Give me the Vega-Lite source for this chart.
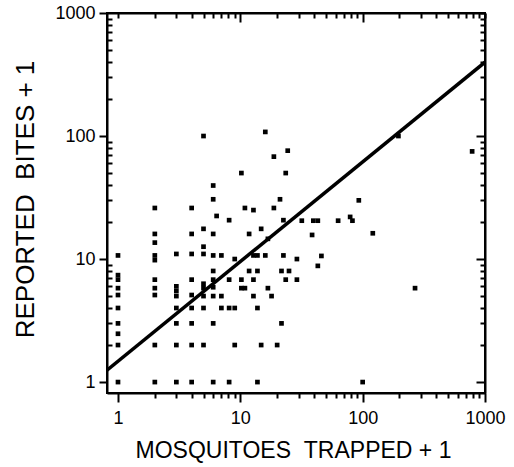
{
  "$schema": "https://vega.github.io/schema/vega-lite/v6.json",
  "width": 378,
  "height": 380,
  "autosize": {"type": "none"},
  "padding": {"left": 107, "top": 13, "right": 29, "bottom": 74},
  "background": "white",
  "config": {
    "view": {"stroke": "black", "strokeWidth": 2},
    "font": "Liberation Sans",
    "axis": {"grid": false, "domainColor": "black", "domainWidth": 2, "tickColor": "black", "tickWidth": 2, "labelColor": "black", "titleColor": "black", "titleFontWeight": "normal", "labelOverlap": false, "labelFlush": false, "labelBound": false}
  },
  "datasets": {
    "pts": [
      {"X":1,"Y":10.7},{"X":1,"Y":7.4},{"X":1,"Y":6.8},{"X":1,"Y":5.8},{"X":1,"Y":5.1},{"X":1,"Y":4},{"X":1,"Y":3},{"X":1,"Y":2.47},{"X":1,"Y":2},{"X":1,"Y":1},
      {"X":2,"Y":26},{"X":2,"Y":16},{"X":2,"Y":13.6},{"X":2,"Y":10.7},{"X":2,"Y":9.8},{"X":2,"Y":6.8},{"X":2,"Y":5.8},{"X":2,"Y":5.1},{"X":2,"Y":2},{"X":2,"Y":1},
      {"X":3,"Y":11},{"X":3,"Y":6},{"X":3,"Y":5.5},{"X":3,"Y":5},{"X":3,"Y":4},{"X":3,"Y":3},{"X":3,"Y":2},{"X":3,"Y":1},
      {"X":4,"Y":26},{"X":4,"Y":16},{"X":4,"Y":11},{"X":4,"Y":6.8},{"X":4,"Y":5.1},{"X":4,"Y":4},{"X":4,"Y":3},{"X":4,"Y":2},{"X":4,"Y":1},
      {"X":5,"Y":100},{"X":5,"Y":17.6},{"X":5,"Y":12.6},{"X":5,"Y":11},{"X":5,"Y":6.3},{"X":5,"Y":5.8},{"X":5,"Y":5},{"X":5,"Y":4},{"X":5,"Y":2},
      {"X":6,"Y":39.6},{"X":6,"Y":30.6},{"X":6,"Y":16},{"X":6,"Y":10.7},{"X":6,"Y":8},{"X":6,"Y":6.8},{"X":6,"Y":5.9},{"X":6,"Y":5},{"X":6,"Y":3},{"X":6,"Y":1},
      {"X":6.4,"Y":22.4},
      {"X":7,"Y":10.7},{"X":7,"Y":5},{"X":7,"Y":4},
      {"X":8.1,"Y":20.7},{"X":8.1,"Y":6.8},{"X":8.1,"Y":4},{"X":8.1,"Y":1},
      {"X":9,"Y":10},{"X":9,"Y":4},{"X":9,"Y":2},
      {"X":10.2,"Y":50},{"X":10.2,"Y":6.8},{"X":10.2,"Y":5.8},
      {"X":10.9,"Y":26},{"X":10.9,"Y":5.8},
      {"X":11.8,"Y":16},{"X":11.8,"Y":8},
      {"X":12.8,"Y":25},{"X":12.8,"Y":10.7},{"X":12.8,"Y":6.8},{"X":12.8,"Y":5},
      {"X":13.8,"Y":10.7},{"X":13.8,"Y":8},{"X":13.8,"Y":4},{"X":13.8,"Y":1},
      {"X":14.8,"Y":17.6},{"X":14.8,"Y":2},
      {"X":16,"Y":108},{"X":16,"Y":10.7},
      {"X":16.8,"Y":14.6},{"X":16.8,"Y":5.8},
      {"X":18,"Y":5},
      {"X":18.8,"Y":68},{"X":18.8,"Y":26},
      {"X":20,"Y":2},
      {"X":21.1,"Y":30.6},
      {"X":21.7,"Y":8},{"X":21.7,"Y":3},
      {"X":22.5,"Y":20.7},{"X":22.5,"Y":10.7},
      {"X":23.5,"Y":50},{"X":23.5,"Y":6.8},
      {"X":24.4,"Y":76},
      {"X":25,"Y":8},
      {"X":29,"Y":10},{"X":29,"Y":6.8},
      {"X":31.8,"Y":20.5},
      {"X":38.6,"Y":15.7},
      {"X":39.5,"Y":20.5},
      {"X":43,"Y":20.5},{"X":43,"Y":8.8},
      {"X":46,"Y":10.6},
      {"X":63,"Y":20.5},
      {"X":79,"Y":22},
      {"X":82.5,"Y":20.5},
      {"X":93,"Y":30},
      {"X":100,"Y":1},
      {"X":121,"Y":16.2},
      {"X":196,"Y":100},
      {"X":268,"Y":5.8},
      {"X":785,"Y":75}
    ],
    "fit": [
      {"X":0.813,"Y":1.25},
      {"X":1000,"Y":398}
    ]
  },
  "layer": [
    {
      "data": {"name": "pts"},
      "mark": {"type": "square", "size": 22, "color": "black", "opacity": 1},
      "encoding": {
        "x": {"field": "X", "type": "quantitative",
          "scale": {"type": "log", "domain": [0.813, 1000], "nice": false, "zero": false},
          "axis": {"orient": "bottom",
            "values": [1,2,3,4,5,6,7,8,9,10,20,30,40,50,60,70,80,90,100,200,300,400,500,600,700,800,900,1000],
            "labelExpr": "(datum.value == 1 || datum.value == 10 || datum.value == 100 || datum.value == 1000) ? format(datum.value, 'd') : ''",
            "tickSize": {"condition": {"test": "datum.value == 1 || datum.value == 10 || datum.value == 100 || datum.value == 1000", "value": 9}, "value": 5},
            "labelFontSize": 18, "labelPadding": 7,
            "title": "MOSQUITOES\u00a0\u00a0TRAPPED + 1", "titleFontSize": 23,
            "titleX": 186, "titleY": 64, "titleBaseline": "alphabetic"}},
        "y": {"field": "Y", "type": "quantitative",
          "scale": {"type": "log", "domain": [0.815, 1000], "nice": false, "zero": false},
          "axis": {"orient": "left",
            "values": [1,2,3,4,5,6,7,8,9,10,20,30,40,50,60,70,80,90,100,200,300,400,500,600,700,800,900,1000],
            "labelExpr": "(datum.value == 1 || datum.value == 10 || datum.value == 100 || datum.value == 1000) ? format(datum.value, 'd') : ''",
            "tickSize": {"condition": {"test": "datum.value == 1 || datum.value == 10 || datum.value == 100 || datum.value == 1000", "value": 8}, "value": -5},
            "labelFontSize": 18, "labelPadding": 4,
            "title": "REPORTED\u00a0\u00a0BITES + 1", "titleFontSize": 26,
            "titleX": -74, "titleY": 186, "titleBaseline": "alphabetic", "titleAngle": 270}}
      }
    },
    {
      "data": {"name": "fit"},
      "mark": {"type": "line", "color": "black", "strokeWidth": 3.5, "clip": true},
      "encoding": {
        "x": {"field": "X", "type": "quantitative",
          "scale": {"type": "log", "domain": [0.813, 1000], "nice": false, "zero": false},
          "axis": {"orient": "top", "labels": false, "title": null,
            "values": [1,2,3,4,5,6,7,8,9,10,20,30,40,50,60,70,80,90,100,200,300,400,500,600,700,800,900,1000],
            "tickSize": {"condition": {"test": "datum.value == 10 || datum.value == 100", "value": -9}, "value": -5}}},
        "y": {"field": "Y", "type": "quantitative",
          "scale": {"type": "log", "domain": [0.815, 1000], "nice": false, "zero": false},
          "axis": {"orient": "right", "labels": false, "title": null,
            "values": [1,2,3,4,5,6,7,8,9,10,20,30,40,50,60,70,80,90,100,200,300,400,500,600,700,800,900,1000],
            "tickSize": {"condition": {"test": "datum.value == 1 || datum.value == 10 || datum.value == 100", "value": -9}, "value": -5}}}
      }
    }
  ],
  "resolve": {"axis": {"x": "independent", "y": "independent"}}
}
